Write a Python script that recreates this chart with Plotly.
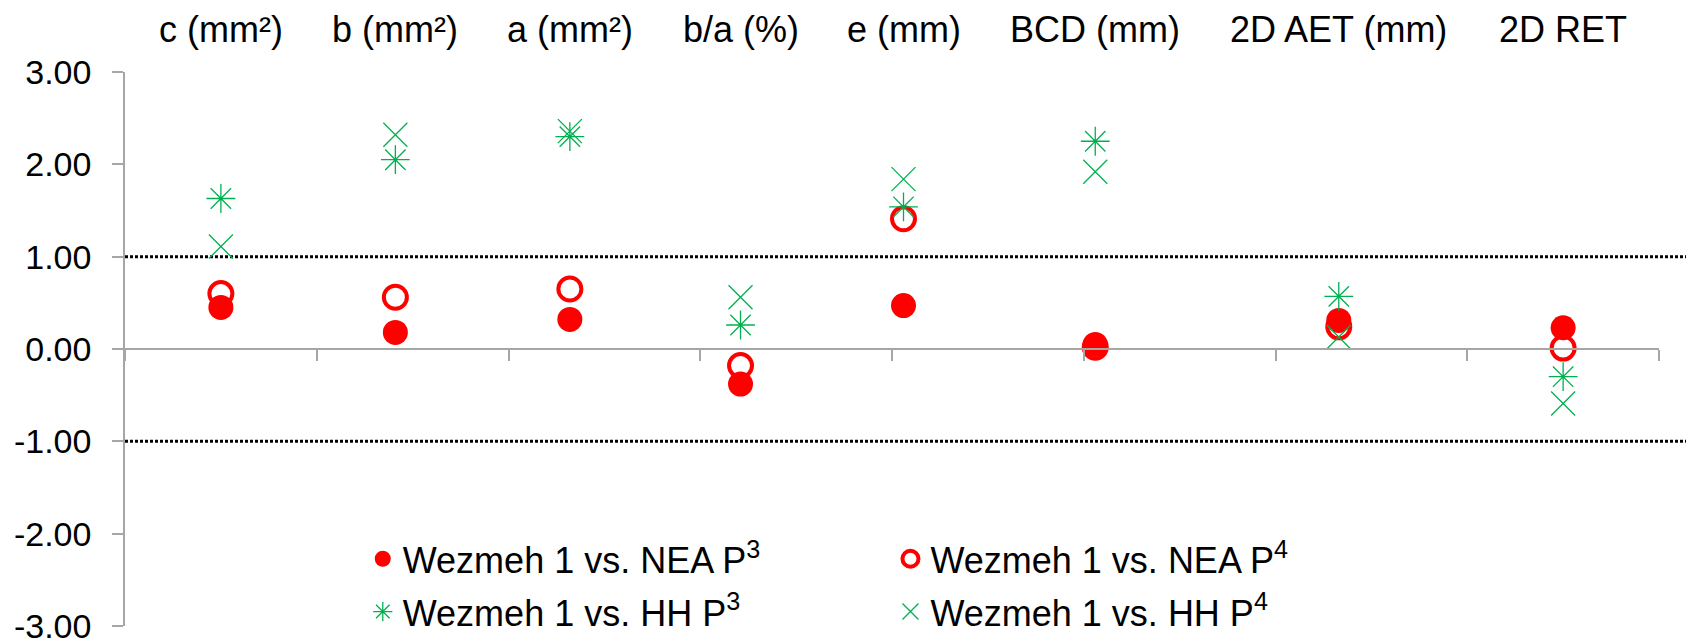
import plotly.graph_objects as go

# measurement labels (shown along the top) and where each column sits on the x scale
labels = ["c (mm²)", "b (mm²)", "a (mm²)", "b/a (%)", "e (mm)", "BCD (mm)", "2D AET (mm)", "2D RET"]
x_pos = [0.5, 1.41, 2.32, 3.21, 4.06, 5.06, 6.33, 7.5]

nea_p3 = [0.45, 0.18, 0.32, -0.38, 0.47, 0.05, 0.31, 0.23]
nea_p4 = [0.60, 0.56, 0.65, -0.18, 1.41, 0.02, 0.24, 0.01]
hh_p3 = [1.63, 2.05, 2.30, 0.26, 1.54, 2.25, 0.57, -0.30]
hh_p4 = [1.11, 2.32, 2.36, 0.56, 1.84, 1.92, 0.13, -0.59]

y_ticks = [-3, -2, -1, 0, 1, 2, 3]
y_ticktext = ["%.2f" % v for v in y_ticks]
limits = [1, -1]

RED = "#FF0000"
GREEN = "#00B050"
AXIS = "#A6A6A6"
FONT = "Liberation Sans, Arial, sans-serif"

fig = go.Figure()

# open circles drawn first so the filled ones sit on top
fig.add_trace(go.Scatter(
    x=x_pos, y=nea_p4, mode="markers", name="Wezmeh 1 vs. NEA P<sup>4</sup>",
    marker=dict(symbol="circle-open", size=23, color=RED, line=dict(width=4, color=RED)),
    legend="legend2", legendgroup="b"))
fig.add_trace(go.Scatter(
    x=x_pos, y=nea_p3, mode="markers", name="Wezmeh 1 vs. NEA P<sup>3</sup>",
    marker=dict(symbol="circle", size=25, color=RED),
    legend="legend", legendgroup="a"))
fig.add_trace(go.Scatter(
    x=x_pos, y=hh_p3, mode="markers", name="Wezmeh 1 vs. HH P<sup>3</sup>",
    marker=dict(symbol="asterisk-open", size=24, color=GREEN, line=dict(width=1.3, color=GREEN)),
    legend="legend", legendgroup="c"))
fig.add_trace(go.Scatter(
    x=x_pos, y=hh_p4, mode="markers", name="Wezmeh 1 vs. HH P<sup>4</sup>",
    marker=dict(symbol="x-thin-open", size=24, color=GREEN, line=dict(width=1.3, color=GREEN)),
    legend="legend2", legendgroup="d"))

for lim in limits:
    fig.add_shape(type="line", xref="paper", yref="y", x0=0, x1=1.03, y0=lim, y1=lim,
                  line=dict(color="black", width=3, dash="3px,2px"), layer="below")

for lab, xv in zip(labels, x_pos):
    fig.add_annotation(x=xv, xref="x", y=1, yref="paper", text=lab, showarrow=False,
                       yanchor="middle", yshift=43, font=dict(size=36, color="black", family=FONT))

leg_common = dict(bgcolor="rgba(0,0,0,0)", font=dict(size=36, color="black", family=FONT),
                  orientation="v", yanchor="top", xanchor="left", tracegroupgap=3)

# page body adds an 8px offset, so the figure is 8px smaller than the window
fig.update_layout(
    width=1686, height=636,
    margin=dict(l=117, r=35.3, t=64, b=17.8, autoexpand=False),
    plot_bgcolor="white", paper_bgcolor="white",
    font=dict(family=FONT, color="black"),
    legend=dict(x=0.155, y=0.1754, **leg_common),
    legend2=dict(x=0.499, y=0.1754, **leg_common),
    xaxis=dict(range=[0, 8], tickvals=list(range(9)), showticklabels=False,
               ticks="outside", ticklen=11, tickcolor=AXIS, tickwidth=1.5,
               showline=True, linecolor=AXIS, linewidth=1.5, automargin=False,
               showgrid=False, zeroline=False, anchor="free", position=0.5),
    yaxis=dict(range=[-3, 3], tickvals=y_ticks, ticktext=y_ticktext,
               ticks="outside", ticklen=11, tickcolor=AXIS, tickwidth=1.5,
               showline=True, linecolor=AXIS, linewidth=1.5, automargin=False,
               showgrid=False, zeroline=False, ticklabelstandoff=14,
               ticklabeloverflow="allow",
               tickfont=dict(size=34, color="black", family=FONT)),
)

fig.write_html("out.html")
